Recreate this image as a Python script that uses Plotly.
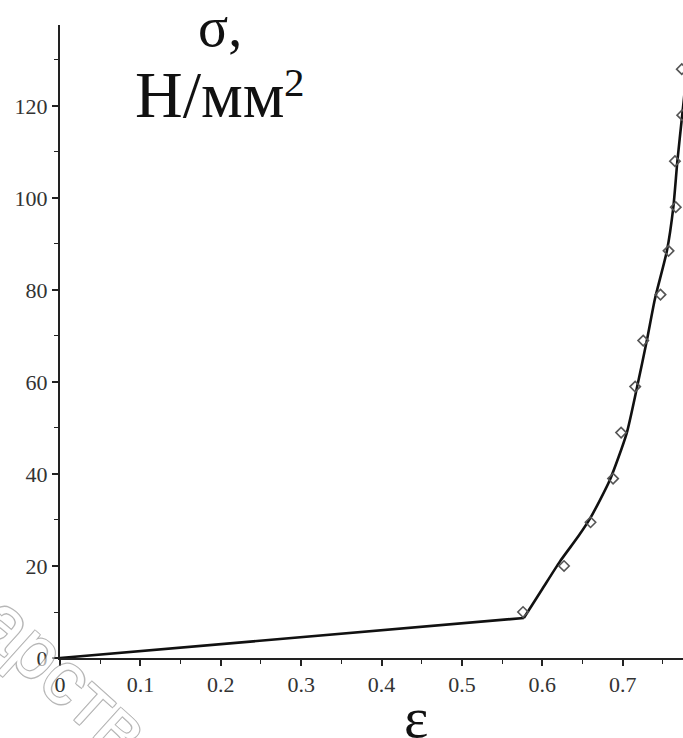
import plotly.graph_objects as go

# Experimental points (strain, stress N/mm^2)
eps_exp = [0.576, 0.627, 0.660, 0.688, 0.698, 0.7155, 0.7255, 0.747, 0.757, 0.766, 0.765, 0.774, 0.7735]
sigma_exp = [10, 20, 29.5, 39, 49, 59, 69, 79, 88.5, 98, 108, 118, 128]

# Calculated curve: linear part and hardening part
eps_lin = [0.0, 0.577]
sigma_lin = [0.0, 8.7]
eps_fit = [0.577, 0.600, 0.622, 0.645, 0.660, 0.684, 0.705, 0.718, 0.730, 0.740, 0.755, 0.763, 0.768, 0.774, 0.780]
sigma_fit = [8.7, 15.0, 21.0, 26.5, 30.5, 38.7, 48.9, 59, 69, 78, 88.5, 98, 108, 118, 128]

x_ticks = [0, 0.1, 0.2, 0.3, 0.4, 0.5, 0.6, 0.7]
x_labels = ["0", "0.1", "0.2", "0.3", "0.4", "0.5", "0.6", "0.7"]
y_ticks = [0, 20, 40, 60, 80, 100, 120]
y_labels = ["0", "20", "40", "60", "80", "100", "120"]

W, H = 683, 738
ML, MR, MT, MB = 60, 0, 25, 80

fig = go.Figure()
fig.add_trace(go.Scatter(
    x=eps_lin, y=sigma_lin, mode="lines",
    line=dict(color="#111111", width=2.6),
    showlegend=False, hoverinfo="skip"))
fig.add_trace(go.Scatter(
    x=eps_fit, y=sigma_fit, mode="lines",
    line=dict(color="#111111", width=2.6, shape="spline", smoothing=0.6),
    showlegend=False, hoverinfo="skip"))
fig.add_trace(go.Scatter(
    x=eps_exp, y=sigma_exp, mode="markers",
    marker=dict(symbol="diamond-open", size=8, color="#555555", line=dict(width=1.6, color="#555555")),
    showlegend=False))

tickfont = dict(family="Liberation Serif, Times New Roman, serif", size=22, color="#333333")

fig.update_xaxes(
    range=[0, 0.775], tickvals=x_ticks, ticktext=x_labels,
    showline=True, linecolor="#222222", linewidth=2,
    ticks="outside", ticklen=6, tickwidth=1.5, tickcolor="#222222",
    minor=dict(dtick=0.05, tick0=0, ticks="outside", ticklen=4, tickcolor="#222222", tickwidth=1.2),
    showgrid=False, zeroline=False, tickfont=tickfont, automargin=False)
fig.update_yaxes(
    range=[0, 137.6], tickvals=y_ticks, ticktext=y_labels,
    showline=True, linecolor="#222222", linewidth=2,
    ticks="outside", ticklen=6, tickwidth=1.5, tickcolor="#222222",
    minor=dict(dtick=10, tick0=0, ticks="outside", ticklen=4, tickcolor="#222222", tickwidth=1.2),
    showgrid=False, zeroline=False, tickfont=tickfont, automargin=False)

pw = W - ML - MR
ph = H - MT - MB
def px(xp):
    return (xp - ML) / pw
def py(yp):
    return (H - MB - yp) / ph

serif = "Liberation Serif, Times New Roman, serif"
annotations = [
    dict(text="дарств", x=px(48), y=py(660), textangle=42, opacity=0.6,
         font=dict(family="Liberation Sans, Arial, sans-serif", size=76, color="#ffffff",
                   shadow="1px 1px 0 #888888, -1px -1px 0 #888888, 1px -1px 0 #888888, -1px 1px 0 #888888")),
    dict(text="σ,", x=px(220), y=py(27), font=dict(family=serif, size=56, color="#111111")),
    dict(text="Н/мм", x=px(210), y=py(94), font=dict(family=serif, size=66, color="#111111")),
    dict(text="2", x=px(294), y=py(82), font=dict(family=serif, size=41, color="#111111")),
    dict(text="ε", x=px(416), y=py(717), font=dict(family=serif, size=58, color="#111111")),
]
for a in annotations:
    a.update(xref="paper", yref="paper", showarrow=False, xanchor="center", yanchor="middle")

fig.update_layout(
    width=W, height=H,
    margin=dict(l=ML, r=MR, t=MT, b=MB, autoexpand=False),
    paper_bgcolor="white", plot_bgcolor="white",
    annotations=annotations,
)

fig.write_html("out.html", config={"displayModeBar": False},
               post_script="document.body.style.margin='0px';document.body.style.overflow='hidden';")
